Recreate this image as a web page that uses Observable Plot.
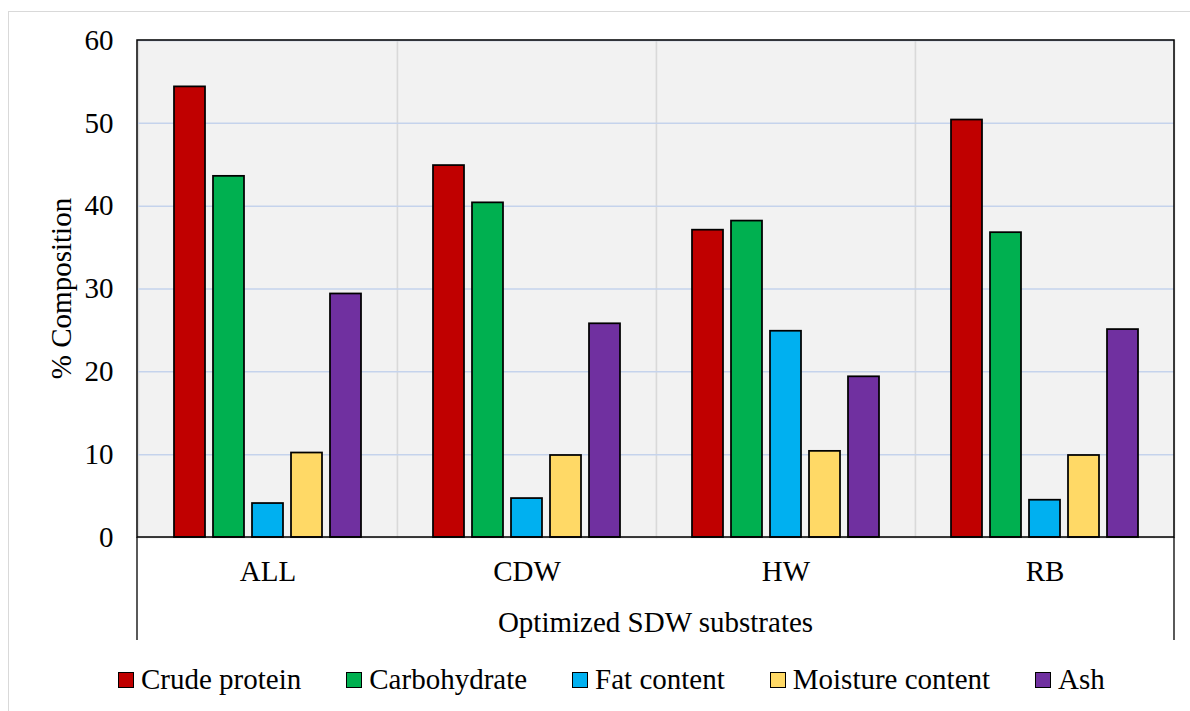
<!DOCTYPE html>
<html><head><meta charset="utf-8">
<script src="https://cdn.jsdelivr.net/npm/d3@7"></script>
<script src="https://cdn.jsdelivr.net/npm/@observablehq/plot@0.6"></script>
<style>
.a{font-family:"Liberation Serif",serif;}
#wrap{position:relative;width:1190px;height:711px;overflow:hidden;background:#fff;}
#border{position:absolute;left:8px;top:11px;width:1200px;height:720px;border:1px solid #d9d9d9;box-sizing:border-box;}
#chart{position:absolute;left:0;top:0;}
#legend{position:absolute;left:118px;top:665px;display:flex;gap:45px;font-size:29px;line-height:29px;color:#000;}
.item{display:flex;align-items:center;gap:7px;white-space:nowrap;}
.sw{width:16px;height:16px;box-sizing:border-box;border:1.5px solid #000;}
</style></head>
<body style="margin:0;font-size:29px;font-family:'Liberation Serif',serif">
<div id="wrap" class="a"><div id="border"></div><div id="chart"></div><div id="legend" class="a" style="font-family:'Liberation Serif',serif"></div></div>
<script>
const categories = ["ALL", "CDW", "HW", "RB"];
const series = ["Crude protein", "Carbohydrate", "Fat content", "Moisture content", "Ash"];
const colors = ["#c00000", "#00b050", "#00b0f0", "#ffd966", "#7030a0"];
const crudeProtein = [54.4, 44.9, 37.1, 50.4];
const carbohydrate = [43.6, 40.4, 38.2, 36.8];
const fatContent = [4.1, 4.7, 24.9, 4.5];
const moistureContent = [10.2, 9.9, 10.4, 9.9];
const ash = [29.4, 25.8, 19.4, 25.1];
const yTicks = [0, 10, 20, 30, 40, 50, 60];
const yTitle = "% Composition";
const xTitle = "Optimized SDW substrates";

const valuesBySeries = [crudeProtein, carbohydrate, fatContent, moistureContent, ash];
const table = [];
categories.forEach((c, i) => series.forEach((s, j) => table.push({category: c, series: s, value: valuesBySeries[j][i]})));

const FONT = "Liberation Serif";
const W = 1190, H = 650, mL = 137, mR = 16, mT = 40, mB = 113;

const plot = Plot.plot({
  width: W, height: H,
  marginLeft: mL, marginRight: mR, marginTop: mT, marginBottom: mB,
  style: {fontFamily: FONT, fontSize: "29px", color: "#000", background: "transparent", overflow: "visible"},
  fx: {domain: categories, padding: 0, axis: "bottom", tickSize: 0, tickPadding: 23, label: null},
  x: {domain: series, paddingInner: 0.2, paddingOuter: 0.84, axis: null},
  y: {domain: [0, 60], ticks: yTicks, tickSize: 0, tickPadding: 25, label: null},
  color: {domain: series, range: colors},
  marks: [
    Plot.frame({fill: "#f2f2f2", stroke: "#d9d9d9", strokeWidth: 1.5}),
    Plot.ruleY(yTicks.filter(d => d > 0), {stroke: "#c5d3ec", strokeWidth: 1.5}),
    Plot.barY(table, {fx: "category", x: "series", y: "value", fill: "series", stroke: "#000", strokeWidth: 1.75})
  ]
});
document.getElementById("chart").appendChild(plot);

const svg = plot.tagName.toLowerCase() === "svg" ? plot : plot.querySelector("svg");
const ns = "http://www.w3.org/2000/svg";
function el(tag, attrs, text) {
  const e = document.createElementNS(ns, tag);
  for (const k in attrs) e.setAttribute(k, attrs[k]);
  if (text) e.textContent = text;
  svg.appendChild(e);
  return e;
}
const x0 = mL, x1 = W - mR, yTop = mT, yBot = H - mB, boxBottom = H - 10;
el("rect", {x: x0, y: yTop, width: x1 - x0, height: yBot - yTop, fill: "none", stroke: "#000", "stroke-width": 1.5});
el("line", {x1: x0, x2: x0, y1: yBot, y2: boxBottom, stroke: "#000", "stroke-width": 1.3});
el("line", {x1: x1, x2: x1, y1: yBot, y2: boxBottom, stroke: "#000", "stroke-width": 1.3});
el("text", {transform: `translate(71,${(yTop + yBot) / 2}) rotate(-90)`, "text-anchor": "middle", "font-size": 29, fill: "#000"}, yTitle);
el("text", {x: (x0 + x1) / 2, y: 632, "text-anchor": "middle", "font-size": 29, fill: "#000"}, xTitle);

const legend = document.getElementById("legend");
series.forEach((s, i) => {
  const item = document.createElement("div");
  item.className = "item";
  const sw = document.createElement("div");
  sw.className = "sw";
  sw.style.background = colors[i];
  const t = document.createElement("span");
  t.textContent = s;
  item.appendChild(sw); item.appendChild(t);
  legend.appendChild(item);
});
</script>
</body></html>
